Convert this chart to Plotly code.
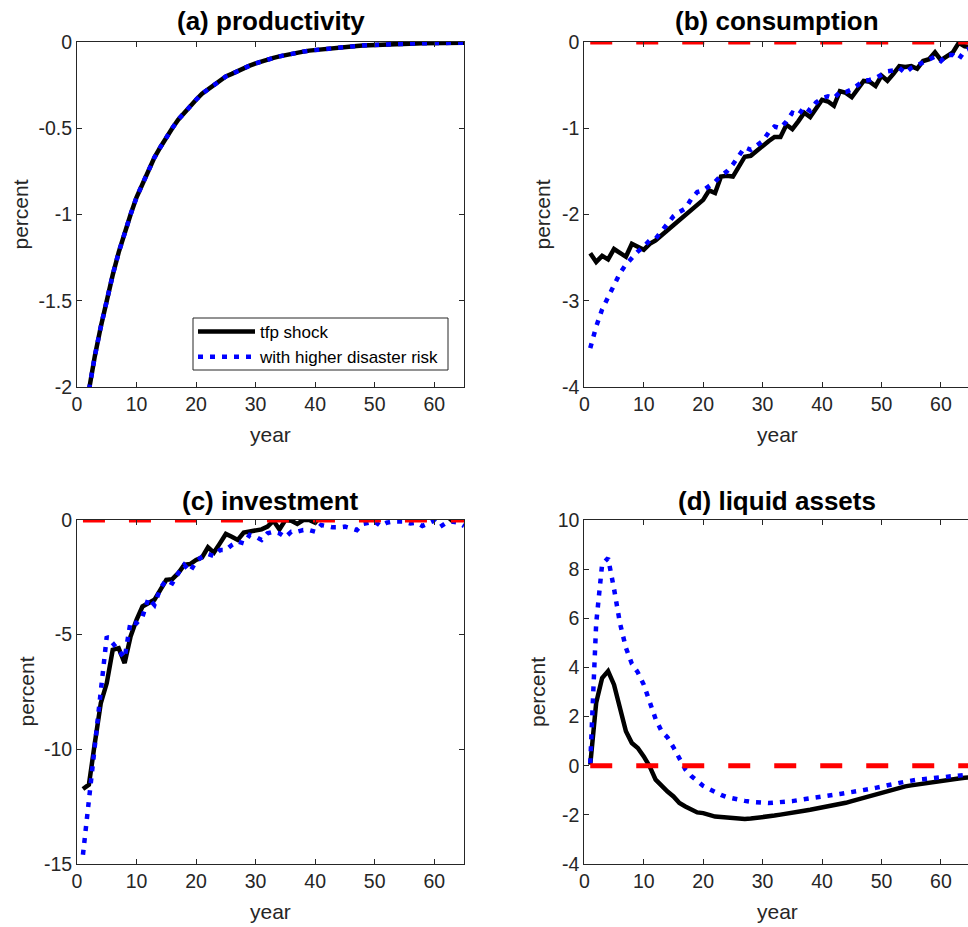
import plotly.graph_objects as go

# ---------------- data ----------------
years = list(range(1, 66))

prod_tfp = [-2.22, -2.01, -1.82, -1.65, -1.49, -1.35, -1.22, -1.10, -1.00, -0.90,
            -0.82, -0.74, -0.67, -0.61, -0.55, -0.50, -0.45, -0.41, -0.37, -0.335,
            -0.30, -0.275, -0.25, -0.225, -0.20, -0.185, -0.167, -0.151, -0.137, -0.124,
            -0.112, -0.101, -0.092, -0.083, -0.075, -0.068, -0.062, -0.056, -0.050, -0.046,
            -0.041, -0.037, -0.034, -0.031, -0.028, -0.025, -0.023, -0.020, -0.018, -0.017,
            -0.015, -0.014, -0.012, -0.011, -0.010, -0.009, -0.008, -0.0075, -0.0068, -0.006,
            -0.0055, -0.005, -0.0045, -0.004, -0.0037]
prod_disaster = [-2.22, -2.01, -1.82, -1.65, -1.49, -1.35, -1.22, -1.10, -1.00, -0.90,
                 -0.82, -0.74, -0.67, -0.61, -0.55, -0.50, -0.45, -0.41, -0.37, -0.335,
                 -0.30, -0.275, -0.25, -0.225, -0.20, -0.185, -0.167, -0.151, -0.137, -0.124,
                 -0.112, -0.101, -0.092, -0.083, -0.075, -0.068, -0.062, -0.056, -0.050, -0.046,
                 -0.041, -0.037, -0.034, -0.031, -0.028, -0.025, -0.023, -0.020, -0.018, -0.017,
                 -0.015, -0.014, -0.012, -0.011, -0.010, -0.009, -0.008, -0.0075, -0.0068, -0.006,
                 -0.0055, -0.005, -0.0045, -0.004, -0.0037]

cons_tfp = [-2.45, -2.55, -2.48, -2.52, -2.40, -2.45, -2.49, -2.34, -2.38, -2.41,
            -2.34, -2.30, -2.24, -2.18, -2.12, -2.07, -2.01, -1.95, -1.89, -1.83,
            -1.72, -1.75, -1.56, -1.55, -1.56, -1.45, -1.33, -1.32, -1.26, -1.21,
            -1.15, -1.10, -1.10, -0.96, -1.01, -0.92, -0.82, -0.87, -0.77, -0.67,
            -0.69, -0.74, -0.57, -0.59, -0.64, -0.55, -0.45, -0.46, -0.51, -0.39,
            -0.45, -0.37, -0.28, -0.29, -0.28, -0.31, -0.22, -0.20, -0.12, -0.21,
            -0.17, -0.12, -0.01, -0.05, -0.06]
cons_disaster = [-3.55, -3.30, -3.10, -2.95, -2.80, -2.68, -2.58, -2.50, -2.43, -2.37,
                 -2.30, -2.28, -2.20, -2.10, -2.02, -1.97, -1.93, -1.82, -1.74, -1.72,
                 -1.67, -1.62, -1.55, -1.50, -1.42, -1.33, -1.22, -1.25, -1.20, -1.15,
                 -1.05, -0.98, -1.00, -0.92, -0.82, -0.85, -0.75, -0.80, -0.70, -0.65,
                 -0.63, -0.65, -0.58, -0.58, -0.55, -0.50, -0.45, -0.44, -0.42, -0.38,
                 -0.34, -0.33, -0.30, -0.36, -0.30, -0.27, -0.24, -0.20, -0.17, -0.22,
                 -0.15, -0.15, -0.20, -0.10, -0.07]

inv_tfp = [-11.73, -11.54, -9.72, -7.98, -7.11, -5.66, -5.59, -6.24, -5.08, -4.35,
           -3.77, -3.63, -3.48, -3.05, -2.61, -2.58, -2.32, -1.96, -1.92, -1.74,
           -1.63, -1.19, -1.42, -1.02, -0.61, -0.73, -0.87, -0.55, -0.51, -0.44,
           -0.41, -0.29, -0.03, -0.41, 0.0, -0.03, -0.17, 0.0, 0.0, -0.12,
           0.2, 0.25, 0.3, 0.25, 0.3, 0.3, 0.25, 0.3, 0.3, 0.25,
           0.3, 0.3, 0.25, 0.3, 0.3, 0.25, 0.3, 0.3, 0.25, 0.3,
           0.25, 0.2, -0.03, 0.2, 0.2]
inv_disaster = [-14.6, -12.2, -9.43, -7.26, -5.08, -5.37, -5.66, -6.02, -4.43, -4.50,
                -4.21, -3.41, -3.70, -2.98, -2.61, -2.76, -2.32, -1.96, -2.25, -1.81,
                -1.60, -1.48, -1.57, -1.31, -1.31, -1.09, -0.94, -1.02, -0.65, -0.73,
                -0.87, -0.58, -0.51, -0.58, -0.75, -0.51, -0.51, -0.44, -0.44, -0.51,
                -0.22, -0.29, -0.32, -0.32, -0.29, -0.36, -0.44, -0.17, -0.12, -0.07,
                -0.26, -0.12, -0.07, -0.07, -0.07, -0.15, -0.12, -0.26, -0.15, -0.03,
                -0.29, -0.12, -0.07, -0.12, -0.26]

liq_tfp = [0.04, 2.56, 3.57, 3.85, 3.30, 2.42, 1.40, 0.92, 0.72, 0.38,
           -0.03, -0.57, -0.84, -1.05, -1.25, -1.52, -1.66, -1.79, -1.90, -1.93,
           -2.00, -2.07, -2.09, -2.11, -2.13, -2.16, -2.17, -2.15, -2.13, -2.11,
           -2.07, -2.03, -1.99, -1.96, -1.92, -1.87, -1.83, -1.79, -1.75, -1.71,
           -1.67, -1.63, -1.58, -1.51, -1.44, -1.37, -1.30, -1.23, -1.16, -1.10,
           -1.04, -0.98, -0.90, -0.84, -0.80, -0.76, -0.72, -0.68, -0.64, -0.61,
           -0.58, -0.55, -0.52, -0.49, -0.47]
liq_disaster = [0.10, 5.80, 8.20, 8.45, 7.20, 5.80, 4.80, 4.15, 3.80, 3.30,
                2.60, 1.90, 1.40, 1.15, 0.75, 0.25, -0.15, -0.42, -0.65, -0.82,
                -0.95, -1.08, -1.19, -1.28, -1.34, -1.39, -1.43, -1.47, -1.50, -1.52,
                -1.52, -1.50, -1.49, -1.47, -1.44, -1.40, -1.37, -1.34, -1.30, -1.26,
                -1.22, -1.18, -1.15, -1.11, -1.08, -1.05, -1.00, -0.95, -0.90, -0.86,
                -0.80, -0.75, -0.70, -0.65, -0.60, -0.57, -0.55, -0.53, -0.51, -0.49,
                -0.46, -0.43, -0.40, -0.37, -0.35]

zero_line = [0.0] * 65

panel_titles = ["(a) productivity", "(b) consumption", "(c) investment", "(d) liquid assets"]
series_names = ["tfp shock", "with higher disaster risk"]
x_tickvals = [0, 10, 20, 30, 40, 50, 60]
x_ticktext = ["0", "10", "20", "30", "40", "50", "60"]
ya_vals = [0, -0.5, -1, -1.5, -2]
ya_text = ["0", "-0.5", "-1", "-1.5", "-2"]
yb_vals = [0, -1, -2, -3, -4]
yb_text = ["0", "-1", "-2", "-3", "-4"]
yc_vals = [0, -5, -10, -15]
yc_text = ["0", "-5", "-10", "-15"]
yd_vals = [10, 8, 6, 4, 2, 0, -2, -4]
yd_text = ["10", "8", "6", "4", "2", "0", "-2", "-4"]

# ---------------- layout helpers ----------------
W, H = 968, 927
FONT = "Liberation Sans, Arial, Helvetica, sans-serif"
AX = "#262626"


def px(x):
    return x / W


def py(y):
    return 1 - y / H


LEFT = (77, 464)
RIGHT = (584.3, 968)
TOP = (42, 387)
BOT = (520, 864)

fig = go.Figure()

blk = dict(color="black", width=4.5)
blu = dict(color="#0000ff", width=4.5, dash="5px,7px")
red = dict(color="#ff0000", width=5, dash="22px,24px")

panels = [
    ("x", "y", prod_tfp, prod_disaster, False),
    ("x2", "y2", cons_tfp, cons_disaster, True),
    ("x3", "y3", inv_tfp, inv_disaster, True),
    ("x4", "y4", liq_tfp, liq_disaster, True),
]
for i, (xa, ya, s1, s2, has_zero) in enumerate(panels):
    fig.add_trace(go.Scatter(x=years, y=s1, mode="lines", line=blk, name=series_names[0],
                             xaxis=xa, yaxis=ya, showlegend=(i == 0)))
    fig.add_trace(go.Scatter(x=years, y=s2, mode="lines", line=blu, name=series_names[1],
                             xaxis=xa, yaxis=ya, showlegend=(i == 0)))
    if has_zero:
        fig.add_trace(go.Scatter(x=years, y=zero_line, mode="lines", line=red,
                                 xaxis=xa, yaxis=ya, showlegend=False))


def xaxis(dom, anchor, rng):
    return dict(domain=[px(dom[0]), px(dom[1])], anchor=anchor, range=rng,
                tickvals=x_tickvals, ticktext=x_ticktext, ticks="inside", ticklen=5,
                tickcolor=AX, showline=True, linecolor=AX, linewidth=1, mirror="ticks",
                showgrid=False, zeroline=False, automargin=False,
                tickfont=dict(family=FONT, size=19.5, color=AX))


def yaxis(dom, anchor, rng, vals, text, mirror="ticks"):
    return dict(domain=[py(dom[1]), py(dom[0])], anchor=anchor, range=rng,
                tickvals=vals, ticktext=text, ticks="inside", ticklen=5,
                tickcolor=AX, showline=True, linecolor=AX, linewidth=1, mirror=mirror,
                showgrid=False, zeroline=False, automargin=False,
                tickfont=dict(family=FONT, size=19.5, color=AX))


right_max = (RIGHT[1] - RIGHT[0]) / 5.944

fig.update_layout(
    width=W, height=H,
    margin=dict(l=0, r=0, t=0, b=0),
    paper_bgcolor="white", plot_bgcolor="white",
    font=dict(family=FONT, color=AX),
    xaxis=xaxis(LEFT, "y", [0, 65]),
    yaxis=yaxis(TOP, "x", [-2, 0], ya_vals, ya_text),
    xaxis2=xaxis(RIGHT, "y2", [0, right_max]),
    yaxis2=yaxis(TOP, "x2", [-4, 0], yb_vals, yb_text, mirror=False),
    xaxis3=xaxis(LEFT, "y3", [0, 65]),
    yaxis3=yaxis(BOT, "x3", [-15, 0], yc_vals, yc_text),
    xaxis4=xaxis(RIGHT, "y4", [0, right_max]),
    yaxis4=yaxis(BOT, "x4", [-4, 10], yd_vals, yd_text, mirror=False),
    showlegend=True,
    legend=dict(x=px(193), y=py(314), xanchor="left", yanchor="top",
                bgcolor="rgba(0,0,0,0)", borderwidth=0,
                font=dict(family=FONT, size=17, color="black"),
                itemwidth=57, tracegroupgap=0),
    shapes=[dict(type="rect", xref="paper", yref="paper",
                 x0=px(193), x1=px(448), y0=py(370), y1=py(318),
                 line=dict(color=AX, width=1), fillcolor="white", layer="above")],
)

ann = []
title_pos = [((LEFT[0] + LEFT[1]) / 2, 21), ((584.3 + 970) / 2, 21),
             ((LEFT[0] + LEFT[1]) / 2, 501), ((584.3 + 970) / 2, 501)]
for t, (x, y) in zip(panel_titles, title_pos):
    ann.append(dict(text="<b>%s</b>" % t, x=px(x), y=py(y), xref="paper", yref="paper",
                    xanchor="center", yanchor="middle", showarrow=False,
                    font=dict(family=FONT, size=26, color="black")))
ylab_pos = [(20, (TOP[0] + TOP[1]) / 2), (542, (TOP[0] + TOP[1]) / 2),
            (25.5, (BOT[0] + BOT[1]) / 2), (537, (BOT[0] + BOT[1]) / 2)]
for (x, y) in ylab_pos:
    ann.append(dict(text="percent", x=px(x), y=py(y), xref="paper", yref="paper",
                    xanchor="center", yanchor="middle", textangle=-90, showarrow=False,
                    font=dict(family=FONT, size=21, color=AX)))
xlab_pos = [((LEFT[0] + LEFT[1]) / 2, 434), ((584.3 + 970) / 2, 434),
            ((LEFT[0] + LEFT[1]) / 2, 911), ((584.3 + 970) / 2, 911)]
for (x, y) in xlab_pos:
    ann.append(dict(text="year", x=px(x), y=py(y), xref="paper", yref="paper",
                    xanchor="center", yanchor="middle", showarrow=False,
                    font=dict(family=FONT, size=21, color=AX)))
fig.update_layout(annotations=ann)

fig.write_html("out.html", config={"displayModeBar": False},
               post_script="document.body.style.margin='0';document.body.style.overflow='hidden';")
